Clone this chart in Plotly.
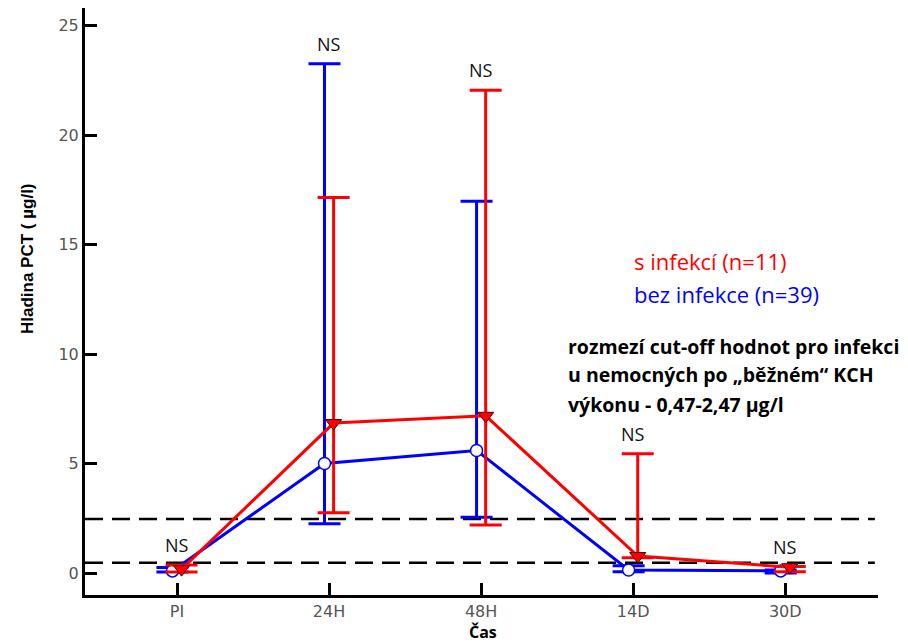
import plotly.graph_objects as go

# Time points
categories = ["PI", "24H", "48H", "14D", "30D"]

# PCT level (µg/l), patients with infection (n=11)
inf_mean = [0.18, 6.85, 7.18, 0.78, 0.27]
inf_upper = [0.37, 17.15, 22.05, 5.45, 0.30]
inf_lower = [0.05, 2.75, 2.20, 0.70, 0.06]

# PCT level (µg/l), patients without infection (n=39)
noinf_mean = [0.10, 5.00, 5.60, 0.14, 0.10]
noinf_upper = [0.25, 23.25, 16.98, 0.33, 0.14]
noinf_lower = [0.05, 2.25, 2.55, 0.06, 0.00]

# Cut-off range for infection
cutoff = [0.47, 2.47]

y_ticks = [0, 5, 10, 15, 20, 25]

RED = "#ff0000"
BLUE = "#0000ff"
OFFSET = 0.03
TEXT_FONT = "Open Sans"

x_idx = list(range(len(categories)))
x_inf = [i + OFFSET for i in x_idx]
x_noinf = [i - OFFSET for i in x_idx]

fig = go.Figure()

fig.add_trace(go.Scatter(
    x=x_noinf, y=noinf_mean, mode="lines+markers",
    line=dict(color=BLUE, width=3),
    marker=dict(symbol="circle", size=12, color="white",
                line=dict(color=BLUE, width=1.5)),
    error_y=dict(type="data", symmetric=False,
                 array=[u - m for u, m in zip(noinf_upper, noinf_mean)],
                 arrayminus=[m - l for m, l in zip(noinf_mean, noinf_lower)],
                 color=BLUE, thickness=3, width=16),
    showlegend=False,
))

fig.add_trace(go.Scatter(
    x=x_inf, y=inf_mean, mode="lines+markers",
    line=dict(color=RED, width=3),
    marker=dict(symbol="triangle-down", size=14, color=RED,
                line=dict(color="#500000", width=1)),
    error_y=dict(type="data", symmetric=False,
                 array=[u - m for u, m in zip(inf_upper, inf_mean)],
                 arrayminus=[m - l for m, l in zip(inf_mean, inf_lower)],
                 color=RED, thickness=3, width=16),
    showlegend=False,
))

# Cut-off dashed lines
for c in cutoff:
    fig.add_shape(type="line", xref="x domain", yref="y",
                  x0=0, x1=0.996, y0=c, y1=c,
                  line=dict(color="black", width=2.5, dash="18px,9px"),
                  layer="below")

annotations = []
# "NS" labels above each time point
for i in x_idx:
    top = max(inf_upper[i], noinf_upper[i])
    annotations.append(dict(x=i, y=top, xref="x", yref="y", text="NS",
                            showarrow=False, yanchor="bottom", yshift=6,
                            font=dict(family=TEXT_FONT, size=18, color="#111")))

annotations += [
    dict(xref="paper", yref="paper", x=(632 - 85) / 793, y=(595 - 261) / 587,
         text="s infekcí (n=11)", showarrow=False, xanchor="left", yanchor="middle",
         font=dict(family=TEXT_FONT, size=22, color=RED)),
    dict(xref="paper", yref="paper", x=(632 - 85) / 793, y=(595 - 294) / 587,
         text="bez infekce (n=39)", showarrow=False, xanchor="left", yanchor="middle",
         font=dict(family=TEXT_FONT, size=22, color=BLUE)),
]

note_lines = ["rozmezí cut-off hodnot pro infekci",
              "u nemocných po „běžném“ KCH",
              "výkonu - 0,47-2,47 µg/l"]
for k, line in enumerate(note_lines):
    annotations.append(dict(xref="paper", yref="paper", x=(566 - 85) / 793,
                            y=(595 - (346 + 29 * k)) / 587, text=line,
                            showarrow=False, xanchor="left", yanchor="middle",
                            font=dict(family=TEXT_FONT, size=19.5, color="black",
                                      weight="bold")))

# Axis titles
annotations.append(dict(xref="paper", yref="paper", x=(27 - 85) / 793,
                        y=(595 - 259) / 587, text="Hladina PCT ( µg/l)",
                        textangle=-90, showarrow=False,
                        xanchor="center", yanchor="middle",
                        font=dict(family="Liberation Sans", size=17,
                                  color="black", weight="bold")))
annotations.append(dict(xref="paper", yref="paper", x=(483 - 85) / 793,
                        y=(595 - 632) / 587, text="Čas", showarrow=False,
                        xanchor="center", yanchor="middle",
                        font=dict(family=TEXT_FONT, size=16,
                                  color="black", weight="bold")))

tick_font = dict(family="DejaVu Sans", size=16, color="#555")

fig.update_layout(
    width=908, height=644,
    margin=dict(l=85, r=30, t=8, b=49),
    plot_bgcolor="white", paper_bgcolor="white",
    annotations=annotations,
    xaxis=dict(range=[-0.605, 4.61], tickvals=x_idx, ticktext=categories,
               showgrid=False, zeroline=False,
               showline=True, linecolor="black", linewidth=3,
               ticks="inside", ticklen=12, tickwidth=3, tickcolor="black",
               tickfont=tick_font),
    yaxis=dict(range=[-1.0, 25.8], tickvals=y_ticks,
               showgrid=False, zeroline=False,
               showline=True, linecolor="black", linewidth=3,
               ticks="inside", ticklen=12, tickwidth=3, tickcolor="black",
               tickfont=tick_font),
)

fig.write_html("out.html")
